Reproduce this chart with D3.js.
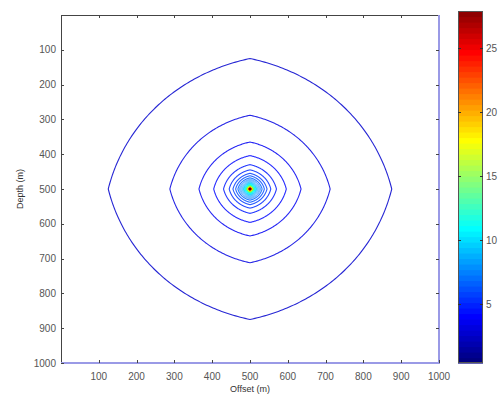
<!DOCTYPE html>
<html><head><meta charset="utf-8">
<script src="https://cdn.jsdelivr.net/npm/d3@7"></script>
<style>
html,body{margin:0;padding:0;background:#fff;}
svg{display:block;font-family:"Liberation Sans",Arial,sans-serif;}
</style></head>
<body>
<svg id="chart" width="501" height="396"></svg>
<script>
// ---- data ----
const xTicks = [100,200,300,400,500,600,700,800,900,1000];
const yTicks = [100,200,300,400,500,600,700,800,900,1000];
const cbTicks = [5,10,15,20,25];
const colorRange = [0.4, 27.9];
const sourceOffset = 500;
const sourceDepth = 500;
// contour levels and their half-width (m) along the axes
const levels = [2.5,3,3.5,4,4.5,5,5.5,6,6.5,7,
                7.5,8,8.5,9,9.5,10,10.5,11,11.5,12,
                12.5,13,13.5,14,14.5,15,15.5,16,16.5,17,
                17.5,18,18.5,19,19.5,20,20.5,21,21.5,22,
                22.5,23,23.5,24,24.5,25,25.5,26,26.5,27,27.5];
const radii  = [375,212,135,96,70,55,45,38,32,28,
                25,22,19.5,17.5,16,14.6,13.4,12.4,11.5,10.7,
                10,9.4,8.8,8.3,7.8,7.4,7,6.6,6.2,5.8,
                5.5,5.2,4.9,4.6,4.3,4.0,3.7,3.4,3.1,2.8,
                2.6,2.4,2.2,2.0,1.8,1.6,1.4,1.2,1.0,0.8,0.5];

const svg = d3.select("#chart");
const plot = {l:61, r:439, t:15, b:363};
const x = d3.scaleLinear().domain([0,1000]).range([plot.l, plot.r]);
const y = d3.scaleLinear().domain([0,1000]).range([plot.t, plot.b]);

function jet(t){
  t = Math.max(0, Math.min(1, t));
  const c = v => Math.round(255*Math.max(0, Math.min(1, v)));
  return `rgb(${c(1.5-Math.abs(4*t-3))},${c(1.5-Math.abs(4*t-2))},${c(1.5-Math.abs(4*t-1))})`;
}
const tScale = d3.scaleLinear().domain(colorRange).range([0,1]);
const color = v => jet(tScale(v));

// ---- contours ----
const shapeA = 0.3;
const angles = d3.range(0, 360, 1).map(d => d*Math.PI/180);
const line = d3.line().x(d => x(d[0])).y(d => y(d[1])).curve(d3.curveLinearClosed);
const contours = levels.map((lv,i) => ({level:lv, R:radii[i]}));
svg.append("g").selectAll("path").data(contours).join("path")
  .attr("d", c => line(angles.map(th => {
      const r = c.R*(1+shapeA)/(1+shapeA*(Math.abs(Math.cos(th))+Math.abs(Math.sin(th))));
      return [sourceOffset + r*Math.cos(th), sourceDepth + r*Math.sin(th)];
  })))
  .attr("fill","none")
  .attr("stroke", c => color(c.level))
  .attr("stroke-opacity", 0.85)
  .attr("stroke-width", c => c.R > 30 ? 1.1 : 0.9);

// ---- axes box ----
const axisCol = "#444";
const g = svg.append("g");
g.append("line").attr("x1",plot.l).attr("x2",plot.r).attr("y1",plot.t+0.5).attr("y2",plot.t+0.5).attr("stroke",axisCol);
g.append("line").attr("x1",plot.l+0.5).attr("x2",plot.l+0.5).attr("y1",plot.t).attr("y2",plot.b).attr("stroke",axisCol);
g.append("line").attr("x1",plot.l).attr("x2",plot.r+1).attr("y1",plot.b).attr("y2",plot.b).attr("stroke","#9a9ae6").attr("stroke-width",2);
g.append("line").attr("x1",plot.r).attr("x2",plot.r).attr("y1",plot.t).attr("y2",plot.b).attr("stroke","#9a9ae6").attr("stroke-width",2);

const tl = 3;
xTicks.forEach(v => {
  g.append("line").attr("x1",Math.round(x(v))+0.5).attr("x2",Math.round(x(v))+0.5).attr("y1",plot.b).attr("y2",plot.b-tl).attr("stroke",axisCol);
  if (v<1000) g.append("line").attr("x1",Math.round(x(v))+0.5).attr("x2",Math.round(x(v))+0.5).attr("y1",plot.t).attr("y2",plot.t+tl).attr("stroke",axisCol);
  g.append("text").attr("x",x(v)).attr("y",plot.b+17).attr("text-anchor","middle")
    .attr("font-size",10).attr("fill","#555").text(v);
});
yTicks.forEach(v => {
  g.append("line").attr("x1",plot.l).attr("x2",plot.l+tl).attr("y1",Math.round(y(v))+0.5).attr("y2",Math.round(y(v))+0.5).attr("stroke",axisCol);
  if (v<1000) g.append("line").attr("x1",plot.r).attr("x2",plot.r-tl).attr("y1",Math.round(y(v))+0.5).attr("y2",Math.round(y(v))+0.5).attr("stroke",axisCol);
  g.append("text").attr("x",plot.l-5).attr("y",y(v)+3.5).attr("text-anchor","end")
    .attr("font-size",10).attr("fill","#555").text(v);
});
g.append("text").attr("x",x(500)).attr("y",392).attr("text-anchor","middle")
  .attr("font-size",9).attr("fill","#333").text("Offset (m)");
g.append("text").attr("transform",`translate(23,${y(500)}) rotate(-90)`).attr("text-anchor","middle")
  .attr("font-size",9).attr("fill","#333").text("Depth (m)");

// ---- colorbar ----
const cb = {l:458, r:483, t:11, b:363};
const cy = d3.scaleLinear().domain(colorRange).range([cb.b, cb.t]);
const nSteps = 64;
const stepVals = d3.range(nSteps).map(i => colorRange[0] + (colorRange[1]-colorRange[0])*i/nSteps);
const stepH = (colorRange[1]-colorRange[0])/nSteps;
svg.append("g").selectAll("rect").data(stepVals).join("rect")
  .attr("x",cb.l).attr("width",cb.r-cb.l)
  .attr("y", v => cy(v+stepH)).attr("height", v => cy(v)-cy(v+stepH)+0.6)
  .attr("fill", v => jet((v-colorRange[0])/(colorRange[1]-colorRange[0])));
svg.append("rect").attr("x",cb.l+0.5).attr("y",cb.t+0.5).attr("width",cb.r-cb.l-1).attr("height",cb.b-cb.t-1)
  .attr("fill","none").attr("stroke","#555");
cbTicks.forEach(v => {
  const yy = Math.round(cy(v))+0.5;
  svg.append("line").attr("x1",cb.l).attr("x2",cb.l+3).attr("y1",yy).attr("y2",yy).attr("stroke","#333");
  svg.append("line").attr("x1",cb.r).attr("x2",cb.r-3).attr("y1",yy).attr("y2",yy).attr("stroke","#333");
  svg.append("text").attr("x",cb.r+3).attr("y",yy+3.5).attr("font-size",10).attr("fill","#555").text(v);
});
</script>
</body></html>
